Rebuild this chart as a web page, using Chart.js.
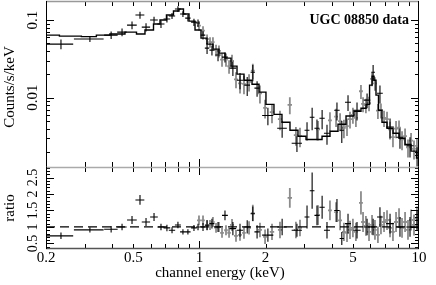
<!DOCTYPE html>
<html><head><meta charset="utf-8">
<script src="https://cdn.jsdelivr.net/npm/chart.js@4"></script>
<style>
html,body{margin:0;padding:0;background:#fff;}
#wrap{position:relative;width:436px;height:285px;overflow:hidden;background:#fff;}
#c1{position:absolute;left:0;top:0;}
#c2{position:absolute;left:0;top:160px;}
</style></head><body>
<div id="wrap"><canvas id="c1" width="436" height="170"></canvas><canvas id="c2" width="436" height="125"></canvas></div>
<script>
// ---- tick values / labels ----
const xTickLabelValues = [0.2, 0.5, 1, 2, 5, 10];
const xTickLabels = ['0.2', '0.5', '1', '2', '5', '10'];
const xMajorTicks = [1];
const xMinorTicks = [0.3, 0.4, 0.5, 0.6, 0.7, 0.8, 0.9, 2, 3, 4, 5, 6, 7, 8, 9];
const countsMajorTicks = [0.01, 0.1];
const countsTickLabels = ['0.01', '0.1'];
const countsMinorTicks = [0.002, 0.003, 0.004, 0.005, 0.006, 0.007, 0.008, 0.009, 0.02, 0.03, 0.04, 0.05, 0.06, 0.07, 0.08, 0.09];
const ratioMajorTicks = [0.5, 1, 1.5, 2, 2.5];
const ratioTickLabels = ['0.5', '1', '1.5', '2', '2.5'];
const ratioMinorTicks = [0.4, 0.6, 0.7, 0.8, 0.9, 1.1, 1.2, 1.3, 1.4, 1.6, 1.7, 1.8, 1.9, 2.1, 2.2, 2.3, 2.4, 2.6, 2.7, 2.8];

// ---- data: black series ----
const blackEnergy = [0.234,0.317,0.396,0.444,0.493,0.536,0.571,0.621,0.668,0.711,0.75,0.798,0.841,0.886,0.944,0.985,1.038,1.083,1.14,1.215,1.307,1.42,1.53,1.65,1.75,1.83,2.05,2.38,2.78,3.09,3.26,3.43,3.62,3.81,4.23,4.45,4.75,5.22,5.80,6.18,6.64,7.38,8.19,9.1,9.8];
const blackEnergyErr = [0.032,0.049,0.028,0.022,0.025,0.025,0.025,0.025,0.025,0.025,0.025,0.025,0.025,0.025,0.028,0.02,0.025,0.025,0.03,0.035,0.04,0.05,0.05,0.05,0.04,0.05,0.12,0.12,0.15,0.08,0.08,0.09,0.1,0.12,0.12,0.1,0.15,0.2,0.2,0.12,0.2,0.3,0.3,0.35,0.2];
const blackCounts = [0.049,0.057,0.064,0.070,0.086,0.116,0.081,0.100,0.089,0.103,0.113,0.139,0.1195,0.106,0.094,0.0915,0.064,0.0435,0.041,0.0354,0.0333,0.024,0.0168,0.0145,0.0213,0.0133,0.0059,0.00404,0.00259,0.00381,0.0056,0.00404,0.00543,0.00348,0.0069,0.00381,0.00875,0.0069,0.0093,0.0213,0.0114,0.0042,0.0031,0.0024,0.0018];
const blackCountsErr = [0.007,0.005,0.007,0.008,0.01,0.012,0.01,0.01,0.01,0.01,0.01,0.012,0.01,0.01,0.01,0.01,0.008,0.007,0.006,0.006,0.005,0.005,0.004,0.004,0.005,0.003,0.0015,0.001,0.0006,0.001,0.0018,0.0012,0.0015,0.001,0.0018,0.0012,0.002,0.0018,0.002,0.005,0.003,0.0012,0.0009,0.0007,0.0005];
const blackRatio = [0.73,0.91,0.93,1.0,1.21,1.82,1.15,1.3,1.0,0.97,0.9,1.06,0.85,0.85,0.97,1.0,1.0,1.05,1.1,1.0,1.35,0.95,0.9,1.0,1.4,0.85,0.75,1.0,0.9,1.3,2.1,1.35,1.6,0.9,1.5,0.65,1.1,0.9,1.0,1.0,1.3,1.1,1.0,1.0,1.2];
const blackRatioErr = [0.1,0.08,0.1,0.1,0.12,0.15,0.12,0.12,0.1,0.1,0.09,0.1,0.08,0.08,0.09,0.1,0.12,0.15,0.15,0.15,0.15,0.2,0.2,0.2,0.22,0.2,0.2,0.25,0.2,0.35,0.55,0.3,0.35,0.25,0.35,0.2,0.3,0.25,0.25,0.25,0.3,0.3,0.3,0.3,0.3];

// ---- data: gray series ----
const grayEnergy = [0.995,1.038,1.083,1.117,1.152,1.19,1.227,1.267,1.321,1.364,1.407,1.467,1.53,1.595,1.682,1.75,1.886,1.99,2.14,2.327,2.58,2.75,2.87,3.47,3.93,4.19,4.37,4.55,4.70,4.85,5.00,5.16,5.44,5.56,5.73,5.92,6.11,6.30,6.50,6.71,6.93,7.15,7.38,7.61,7.86,8.11,8.37,8.64,8.91,9.20,9.49,9.79];
const grayEnergyErr = [0.02,0.02,0.02,0.02,0.02,0.02,0.025,0.025,0.025,0.025,0.03,0.03,0.03,0.03,0.035,0.035,0.04,0.04,0.05,0.05,0.06,0.06,0.06,0.07,0.08,0.08,0.09,0.09,0.09,0.1,0.1,0.1,0.11,0.11,0.11,0.12,0.12,0.12,0.13,0.13,0.14,0.14,0.15,0.15,0.16,0.16,0.17,0.17,0.18,0.18,0.19,0.19];
const grayCounts = [0.085,0.073,0.057,0.052,0.052,0.041,0.040,0.031,0.031,0.0254,0.0297,0.0172,0.0153,0.0151,0.016,0.0223,0.0114,0.0074,0.0065,0.0053,0.0081,0.0033,0.0032,0.0039,0.0051,0.0057,0.0050,0.0041,0.0043,0.0053,0.0060,0.0055,0.0121,0.0083,0.0080,0.0085,0.0175,0.0153,0.0068,0.0069,0.0055,0.0053,0.0039,0.0031,0.0040,0.0041,0.0029,0.0032,0.0023,0.0028,0.0022,0.0024];
const grayCountsErr = [0.012,0.01,0.008,0.008,0.008,0.007,0.007,0.006,0.006,0.005,0.006,0.004,0.004,0.004,0.004,0.005,0.003,0.002,0.0018,0.0015,0.002,0.0009,0.0009,0.0011,0.0014,0.0015,0.0013,0.0011,0.0011,0.0013,0.0014,0.0013,0.0025,0.0018,0.0017,0.0018,0.0035,0.003,0.0015,0.0015,0.0013,0.0013,0.001,0.0008,0.001,0.001,0.0008,0.0008,0.0006,0.0007,0.0006,0.0006];
const grayRatio = [1.2,1.2,1.06,1.06,1.15,0.97,1.0,0.82,0.9,0.82,1.06,0.73,0.76,0.82,0.97,1.42,0.91,0.7,0.85,0.91,1.88,0.91,0.97,1.36,1.5,1.45,1.2,0.85,0.82,0.91,0.97,0.85,1.73,1.15,1.03,0.85,1.06,0.91,0.76,1.06,1.15,1.21,0.97,0.85,1.15,1.27,0.97,1.15,0.91,1.21,1.06,1.27];
const grayRatioErr = [0.15,0.15,0.15,0.15,0.15,0.15,0.15,0.15,0.15,0.15,0.18,0.18,0.18,0.18,0.2,0.25,0.22,0.22,0.25,0.25,0.3,0.25,0.25,0.3,0.3,0.3,0.3,0.28,0.28,0.28,0.28,0.28,0.35,0.3,0.3,0.28,0.3,0.3,0.25,0.28,0.3,0.3,0.28,0.28,0.3,0.3,0.3,0.3,0.3,0.32,0.32,0.35];

// ---- model (folded) ----
const modelEnergy = [0.2,0.265,0.317,0.363,0.421,0.498,0.536,0.595,0.641,0.682,0.734,0.790,0.824,0.868,0.925,0.985,1.049,1.117,1.19,1.267,1.349,1.437,1.53,1.664,1.81,1.926,2.095,2.278,2.478,2.695,2.93,3.19,3.47,3.77,4.10,4.46,4.85,5.27,5.62,5.86,6.05,6.18,6.30,6.44,6.64,6.93,7.38,7.86,8.37,8.91,9.49,10.0];
const modelCounts = [0.064,0.0621,0.0612,0.064,0.066,0.070,0.066,0.0743,0.0888,0.1,0.116,0.131,0.139,0.1195,0.097,0.0743,0.0586,0.049,0.0422,0.0375,0.0323,0.0255,0.0201,0.0168,0.0149,0.0118,0.0082,0.0061,0.00483,0.0038,0.00318,0.0029,0.0029,0.00318,0.0037,0.00455,0.0058,0.0067,0.0073,0.0082,0.0145,0.0189,0.0168,0.0108,0.0069,0.00483,0.00404,0.00348,0.003,0.0025,0.00205,0.00167];
const ratioUnity = [1, 1];
const ratioUnityEnergy = [0.2, 10];

const FONT = '"Liberation Serif", "DejaVu Serif", serif';

function crossSegments(ex, exErr, vy, vyErr) {
  const pts = [];
  for (let i = 0; i < ex.length; i++) {
    pts.push({x: ex[i] - exErr[i], y: vy[i]}, {x: ex[i] + exErr[i], y: vy[i]}, {x: ex[i], y: null});
    pts.push({x: ex[i], y: vy[i] - vyErr[i]}, {x: ex[i], y: vy[i] + vyErr[i]}, {x: ex[i], y: null});
  }
  return pts;
}
function pairs(xs, ys) { return xs.map((x, i) => ({x: x, y: ys[i]})); }

function line(ctx, x1, y1, x2, y2) { ctx.beginPath(); ctx.moveTo(x1, y1); ctx.lineTo(x2, y2); ctx.stroke(); }
function rotText(ctx, txt, x, y) {
  ctx.save(); ctx.translate(x, y); ctx.rotate(-Math.PI / 2);
  ctx.textAlign = 'center'; ctx.textBaseline = 'middle'; ctx.fillText(txt, 0, 0); ctx.restore();
}

function framePlugin(cfg) {
  return {
    id: 'frame_' + cfg.name,
    afterDraw(chart) {
      const ctx = chart.ctx, a = chart.chartArea;
      const xs = chart.scales.x, ys = chart.scales.y;
      ctx.save();
      ctx.lineWidth = 1;
      ctx.strokeStyle = '#000';
      const xt = (vals, len) => vals.forEach(v => {
        const p = Math.round(xs.getPixelForValue(v)) + 0.5;
        line(ctx, p, a.top, p, a.top + len);
        line(ctx, p, a.bottom, p, a.bottom - len);
      });
      xt(xMinorTicks, 5); xt(xMajorTicks, 8);
      const yt = (vals, len) => vals.forEach(v => {
        const p = Math.round(ys.getPixelForValue(v)) + 0.5;
        if (p < a.top || p > a.bottom) return;
        line(ctx, a.left, p, a.left + len, p);
        line(ctx, a.right, p, a.right - len, p);
      });
      yt(cfg.yMinor, 4); yt(cfg.yMajor, 8);
      // borders
      if (cfg.topColor) {
        ctx.strokeStyle = cfg.topColor; ctx.lineWidth = cfg.topWidth;
        line(ctx, a.left, a.top + 0.5, a.right, a.top + 0.5);
      }
      if (cfg.bottomColor) {
        ctx.strokeStyle = cfg.bottomColor; ctx.lineWidth = cfg.bottomWidth;
        line(ctx, a.left, a.bottom - 0.5, a.right, a.bottom - 0.5);
      }
      ctx.strokeStyle = '#000'; ctx.lineWidth = 1;
      line(ctx, a.left + 0.5, a.top, a.left + 0.5, a.bottom);
      line(ctx, a.right - 0.5, a.top, a.right - 0.5, a.bottom);
      // labels
      ctx.fillStyle = '#000';
      ctx.font = cfg.tickFont + 'px ' + FONT;
      cfg.yMajor.forEach((v, i) => rotText(ctx, cfg.yLabels[i], 33, ys.getPixelForValue(v)));
      ctx.font = '15px ' + FONT;
      rotText(ctx, cfg.title, 10, (a.top + a.bottom) / 2 + cfg.titleShift);
      if (cfg.xLabels) {
        ctx.textAlign = 'center'; ctx.textBaseline = 'middle';
        xTickLabelValues.forEach((v, i) => ctx.fillText(xTickLabels[i], xs.getPixelForValue(v), a.bottom + 9));
        ctx.fillText('channel energy (keV)', 220, a.bottom + 24);
      }
      if (cfg.legendText) {
        ctx.font = 'bold 14px ' + FONT;
        ctx.textAlign = 'right'; ctx.textBaseline = 'middle';
        ctx.fillText(cfg.legendText, 409, 20);
      }
      ctx.restore();
    }
  };
}

const common = {
  responsive: false, animation: false, events: [],
  plugins: {legend: {display: false}, tooltip: {enabled: false}},
  elements: {point: {radius: 0}, line: {tension: 0}},
};

new Chart(document.getElementById('c1'), {
  type: 'line',
  data: {datasets: [
    {data: pairs(modelEnergy, modelCounts), borderColor: '#000', borderWidth: 1.4, stepped: 'middle', fill: false},
    {data: crossSegments(blackEnergy, blackEnergyErr, blackCounts, blackCountsErr), borderColor: '#000', borderWidth: 1.1, spanGaps: false, fill: false},
    {data: crossSegments(grayEnergy, grayEnergyErr, grayCounts, grayCountsErr), borderColor: '#8c8c8c', borderWidth: 1.8, spanGaps: false, fill: false}
  ]},
  options: Object.assign({}, common, {
    layout: {padding: {left: 46, right: 17, top: 1, bottom: 3}},
    scales: {
      x: {type: 'logarithmic', min: 0.2, max: 10, display: false},
      y: {type: 'logarithmic', min: 0.00128, max: 0.176, display: false}
    }
  }),
  plugins: [framePlugin({name: 'top', yMinor: countsMinorTicks, yMajor: countsMajorTicks, tickFont: 15,
    yLabels: countsTickLabels, title: 'Counts/s/keV', titleShift: 3, xLabels: false, legendText: 'UGC 08850 data',
    topColor: '#999', topWidth: 1.5, bottomColor: null})]
});

new Chart(document.getElementById('c2'), {
  type: 'line',
  data: {datasets: [
    {data: pairs(ratioUnityEnergy, ratioUnity), borderColor: '#000', borderWidth: 1.2, borderDash: [9, 5], fill: false},
    {data: crossSegments(blackEnergy, blackEnergyErr, blackRatio, blackRatioErr), borderColor: '#000', borderWidth: 1.1, spanGaps: false, fill: false},
    {data: crossSegments(grayEnergy, grayEnergyErr, grayRatio, grayRatioErr), borderColor: '#8c8c8c', borderWidth: 1.8, spanGaps: false, fill: false}
  ]},
  options: Object.assign({}, common, {
    layout: {padding: {left: 46, right: 17, top: 7, bottom: 36}},
    scales: {
      x: {type: 'logarithmic', min: 0.2, max: 10, display: false},
      y: {type: 'linear', min: 0.33, max: 2.82, display: false}
    }
  }),
  plugins: [framePlugin({name: 'bot', yMinor: ratioMinorTicks, yMajor: ratioMajorTicks, tickFont: 14,
    yLabels: ratioTickLabels, title: 'ratio', titleShift: 0, xLabels: true, legendText: null,
    topColor: '#aaa', topWidth: 1.5, bottomColor: '#555', bottomWidth: 1.5})]
});
</script>
</body></html>
